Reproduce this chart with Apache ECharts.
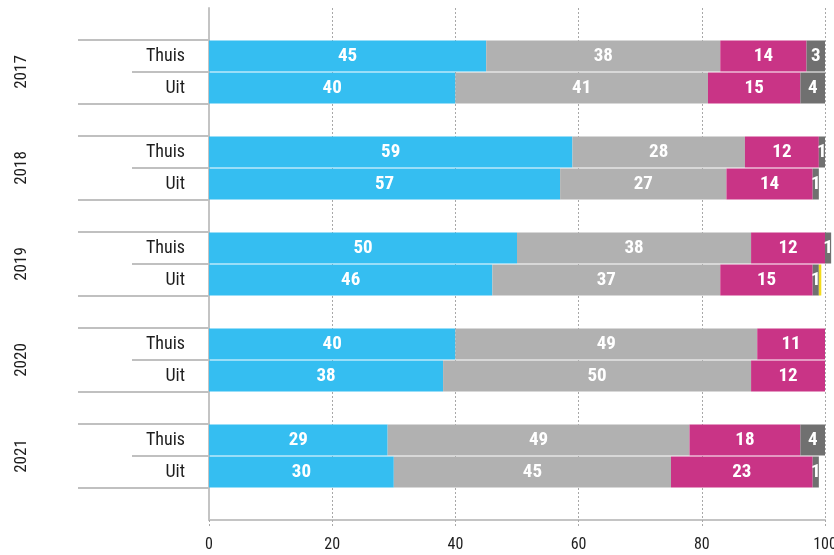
<!DOCTYPE html>
<html><head><meta charset="utf-8">
<script src="https://cdn.jsdelivr.net/npm/echarts@6/dist/echarts.min.js"></script>
<style>html,body{margin:0;padding:0;background:#fff}#chart{width:834px;height:555px}</style>
</head><body><div id="chart"></div>
<script>
// Season shares per row; rows run 2017 Thuis, 2017 Uit, 2018 Thuis, ...
const years = ['2017', '2018', '2019', '2020', '2021'];
const venues = ['Thuis', 'Uit'];
const xTicks = [0, 20, 40, 60, 80, 100];
const blueShare = [45, 40, 59, 57, 50, 46, 40, 38, 29, 30];
const lightGreyShare = [38, 41, 28, 27, 38, 37, 49, 50, 49, 45];
const magentaShare = [14, 15, 12, 14, 12, 15, 11, 12, 18, 23];
const darkGreyShare = [3, 4, 1, 1, 1, 1, null, null, 4, 1];
const yellowShare = [null, null, null, null, null, 0.4, null, null, null, null];

const FONT = "'Roboto Condensed', 'Liberation Sans Narrow', 'DejaVu Sans Condensed', 'Roboto', sans-serif";

// Category rows: an empty spacer on top, then Thuis / Uit / spacer per year
const rows = ['gap-top'];
years.forEach(y => { venues.forEach(v => rows.push(v + '|' + y)); rows.push('gap-' + y); });
// Label rows stop after the last Uit row so the closing separator sits under it
const labelRows = rows.slice(0, rows.length - 1);

function spread(values) {
  const out = [];
  let k = 0;
  rows.forEach(r => {
    if (r.startsWith('gap')) out.push(null);
    else out.push(values[k++]);
  });
  return out;
}

const segments = [
  { name: 'deel1', color: '#35BEF1', values: blueShare, label: true },
  { name: 'deel2', color: '#B1B1B1', values: lightGreyShare, label: true },
  { name: 'deel3', color: '#C93486', values: magentaShare, label: true },
  { name: 'deel4', color: '#707070', values: darkGreyShare, label: true },
  { name: 'deel5', color: '#F3DB1B', values: yellowShare, label: false }
];

const ROW = 32;
const chart = echarts.init(document.getElementById('chart'), null, { renderer: 'canvas' });

chart.setOption({
  animation: false,
  backgroundColor: '#ffffff',
  textStyle: { fontFamily: FONT },
  grid: [
    // bars
    { left: 209, right: 9, top: 8, height: ROW * rows.length, outerBoundsMode: 'none', containLabel: false },
    // year labels
    { left: 30, width: 1, top: 8 + ROW / 2, height: ROW * 3 * years.length, outerBoundsMode: 'none' },
    // row labels and separators
    { left: 209, right: 9, top: 8, height: ROW * labelRows.length, outerBoundsMode: 'none' }
  ],
  xAxis: [
    {
      gridIndex: 0, type: 'value', min: xTicks[0], max: xTicks[xTicks.length - 1], interval: 20,
      axisLine: { show: true, lineStyle: { color: '#c4c4c4', width: 2 } },
      axisTick: { show: true, length: 7, lineStyle: { color: '#a8a8a8', type: [2, 2], width: 1 } },
      splitLine: { show: true, lineStyle: { color: '#a8a8a8', type: [2, 2], width: 1 } },
      axisLabel: { color: '#1e1e1e', fontSize: 16, margin: 17, fontFamily: FONT }
    },
    { gridIndex: 1, type: 'value', show: false },
    { gridIndex: 2, type: 'value', show: false, min: 0, max: 100 }
  ],
  yAxis: [
    {
      gridIndex: 0, type: 'category', data: rows, inverse: true,
      axisLine: { show: true, lineStyle: { color: '#c4c4c4', width: 2 } },
      axisTick: { show: false },
      axisLabel: { show: false }
    },
    {
      gridIndex: 2, type: 'category', data: labelRows, inverse: true, position: 'left', offset: 0,
      axisLine: { show: false },
      axisTick: {
        show: true, length: 131,
        interval: (i, v) => v.startsWith('Thuis') || (v.startsWith('gap') && i > 0),
        lineStyle: { color: '#c0c0c0', width: 2 }
      },
      axisLabel: {
        color: '#1e1e1e', fontSize: 18, margin: 24, fontFamily: FONT, interval: 0,
        formatter: v => v.startsWith('gap') ? '' : v.split('|')[0]
      }
    },
    {
      gridIndex: 2, type: 'category', data: labelRows, inverse: true, position: 'left', offset: 0,
      axisLine: { show: false },
      axisTick: {
        show: true, length: 77,
        interval: (i, v) => v.startsWith('Uit'),
        lineStyle: { color: '#c0c0c0', width: 2 }
      },
      axisLabel: { show: false }
    },
    {
      gridIndex: 1, type: 'category', data: years, inverse: true,
      axisLine: { show: false }, axisTick: { show: false },
      axisLabel: { color: '#1e1e1e', fontSize: 17, rotate: 90, margin: 0, fontFamily: FONT }
    }
  ],
  series: segments.map(s => ({
    name: s.name,
    type: 'bar',
    xAxisIndex: 0,
    yAxisIndex: 0,
    stack: 'aandeel',
    barWidth: 31,
    clip: false,
    itemStyle: { color: s.color },
    label: {
      show: s.label,
      position: 'inside',
      color: '#ffffff',
      fontSize: 19,
      fontWeight: 'bold',
      fontFamily: FONT,
      formatter: p => p.value == null ? '' : String(p.value)
    },
    data: spread(s.values)
  }))
});
</script>
</body></html>
